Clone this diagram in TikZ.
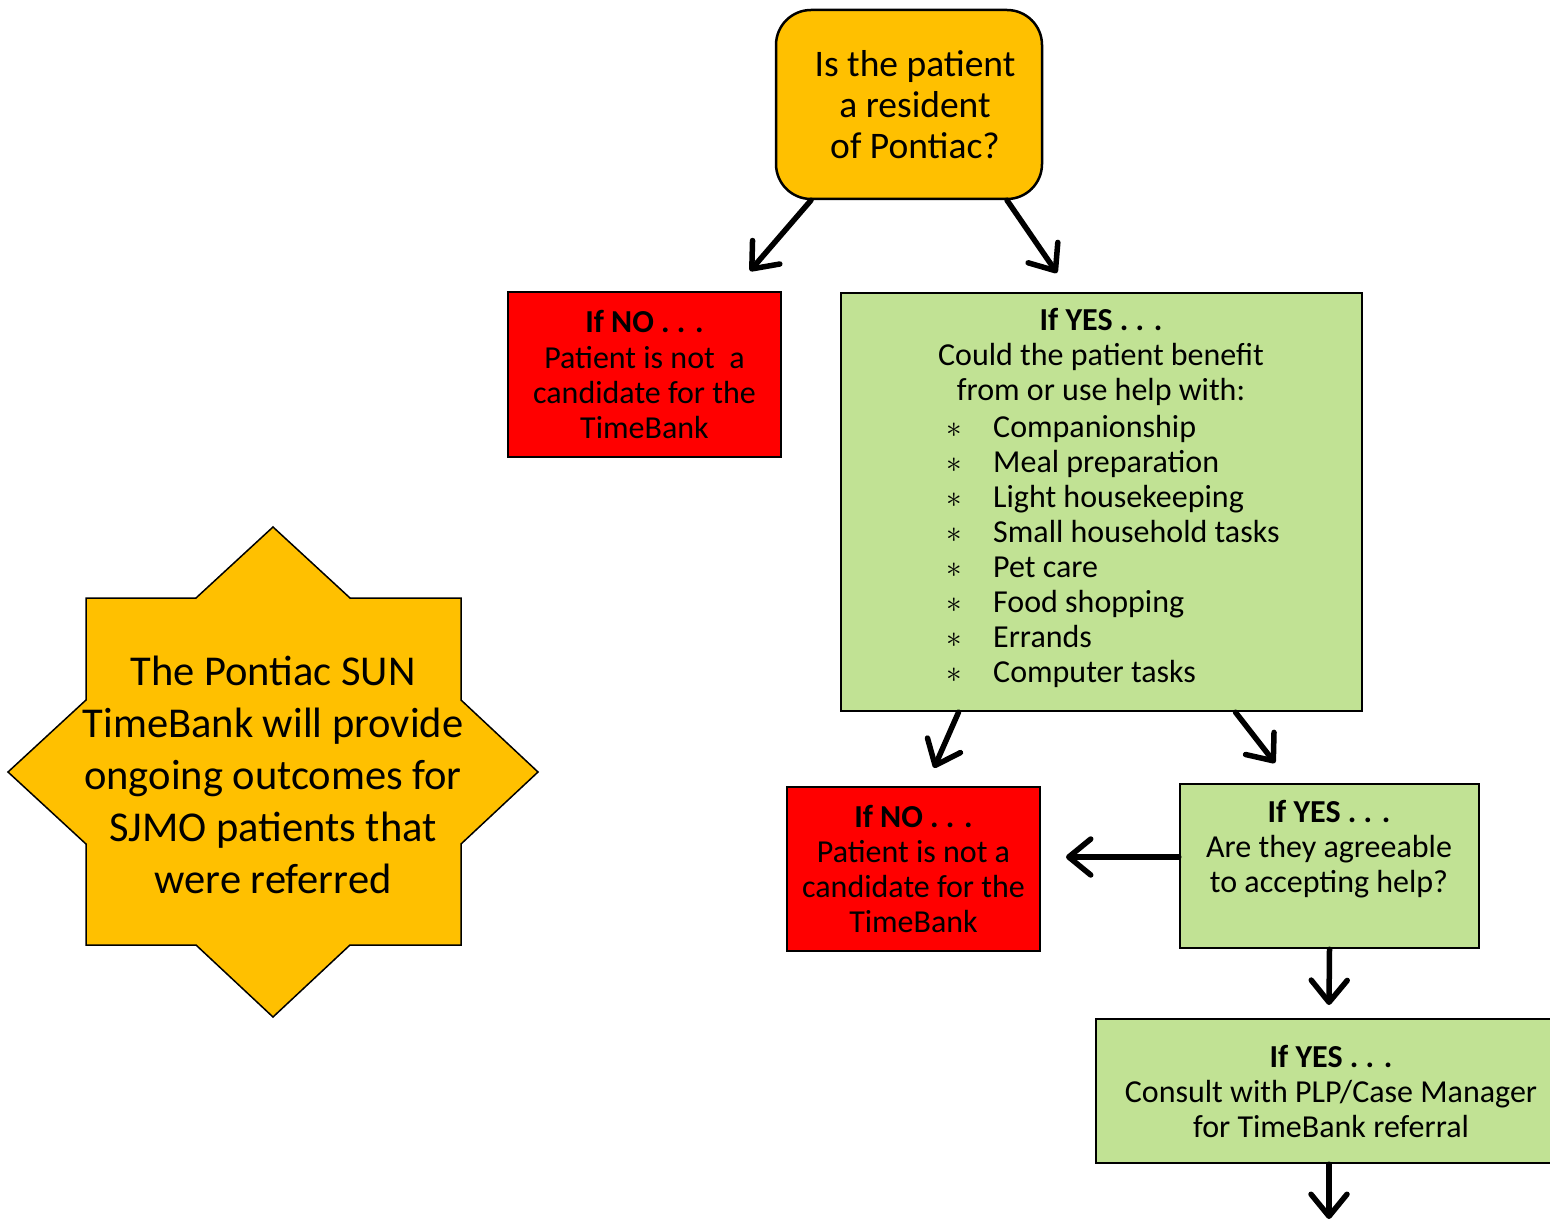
\documentclass[tikz,border=0pt]{standalone}
\usepackage{fontspec}
\setmainfont{Carlito}
\usetikzlibrary{arrows.meta,positioning}

\definecolor{sunorange}{RGB}{255,192,0}
\definecolor{noRed}{RGB}{255,0,0}
\definecolor{yesGreen}{RGB}{193,226,148}

\newcommand{\helpitem}[1]{\makebox[47pt][l]{\scalebox{1.25}{$\ast$}}#1}

\tikzset{
  box/.style={draw=black, line width=2.5pt, align=center, inner sep=0pt},
  nobox/.style={box, fill=noRed, font=\fontsize{32}{35}\selectfont},
  yesbox/.style={box, fill=yesGreen, font=\fontsize{32}{35}\selectfont},
  flow/.style={line width=5.5pt, line cap=round,
    -{Straight Barb[length=22pt,width=36pt,line cap=round,line join=round]}},
}

\begin{document}
\begin{tikzpicture}[x=1pt,y=-1pt]
    \useasboundingbox (0,0) rectangle (1550,1222);
    \clip (0,0) rectangle (1550,1222);

    % question
    \node[box, fill=sunorange, rounded corners=35pt, minimum width=266pt, minimum height=189pt,
      font=\fontsize{37.5}{41}\selectfont] (resident) at (909,104.5)
      {\hspace*{12pt}Is the patient\\\hspace*{12pt}a resident\\\hspace*{12pt}of Pontiac?};

    % first answers
    \node[nobox, minimum width=273pt, minimum height=165pt] (noone) at (644.5,374.5)
      {\textbf{If NO . . .}\\Patient is not\ \ a\\candidate for the\\TimeBank};
    \node[yesbox, minimum width=521pt, minimum height=418pt] (yesone) at (1101.5,502) {};
    \node[align=center, inner sep=0pt, font=\fontsize{32}{35}\selectfont] (yesonehead) at (1101,357)
      {\textbf{If YES . . .}\\Could the patient benefit\\from or use help with:};
    \node[align=left, inner sep=0pt, anchor=west, font=\fontsize{32}{35}\selectfont] (helplist) at (946,551)
      {\helpitem{Companionship}\\\helpitem{Meal preparation}\\\helpitem{Light housekeeping}\\
       \helpitem{Small household tasks}\\\helpitem{Pet care}\\\helpitem{Food shopping}\\
       \helpitem{Errands}\\\helpitem{Computer tasks}};

    % second answers
    \node[nobox, minimum width=253pt, minimum height=164pt] (notwo) at (913.5,869)
      {\textbf{If NO . . .}\\Patient is not a\\candidate for the\\TimeBank};
    \node[yesbox, minimum width=299pt, minimum height=164pt] (agree) at (1329.5,866) {};
    \node[align=center, inner sep=0pt, font=\fontsize{32}{35}\selectfont] (agreetext) at (1329,849)
      {\textbf{If YES . . .}\\Are they agreeable\\to accepting help?};
    \node[yesbox, minimum width=470pt, minimum height=144pt] (consult) at (1331,1091)
      {\textbf{If YES . . .}\\Consult with PLP/Case Manager\\for TimeBank referral};

    % star
    \draw[fill=sunorange, line width=1.5pt] (273,527) -- (350,598) -- (461,598) -- (461,700)
      -- (538,772) -- (461,844) -- (461,945) -- (350,945) -- (273,1017) -- (196,945)
      -- (86,945) -- (86,844) -- (8,772) -- (86,700) -- (86,598) -- (196,598) -- cycle;
    \node[align=center, inner sep=0pt, font=\fontsize{42.5}{52}\selectfont] (sunnote) at (273,775)
      {The Pontiac SUN\\TimeBank will provide\\ongoing outcomes for\\SJMO patients that\\were referred};

    % arrows
    \coordinate (noonetip) at (750,271);
    \coordinate (yesonetip) at (1057,273);
    \coordinate (notwotip) at (934,768);
    \coordinate (agreetip) at (1275,763);
    \coordinate (refusetip) at (1066,857);
    \coordinate (consulttip) at (1329,1005);
    \coordinate (endtip) at (1329,1219);
    \draw[flow] ([xshift=-98pt]resident.south) -- (noonetip);
    \draw[flow] ([xshift=98pt]resident.south) -- (yesonetip);
    \draw[flow] ([xshift=-143pt]yesone.south) -- (notwotip);
    \draw[flow] ([xshift=134pt]yesone.south) -- (agreetip);
    \draw[flow] ([yshift=9pt]agree.west) -- (refusetip);
    \draw[flow] (agree.south) -- (consulttip);
    \draw[flow] ([xshift=-2pt]consult.south) -- (endtip);
\end{tikzpicture}
\end{document}
